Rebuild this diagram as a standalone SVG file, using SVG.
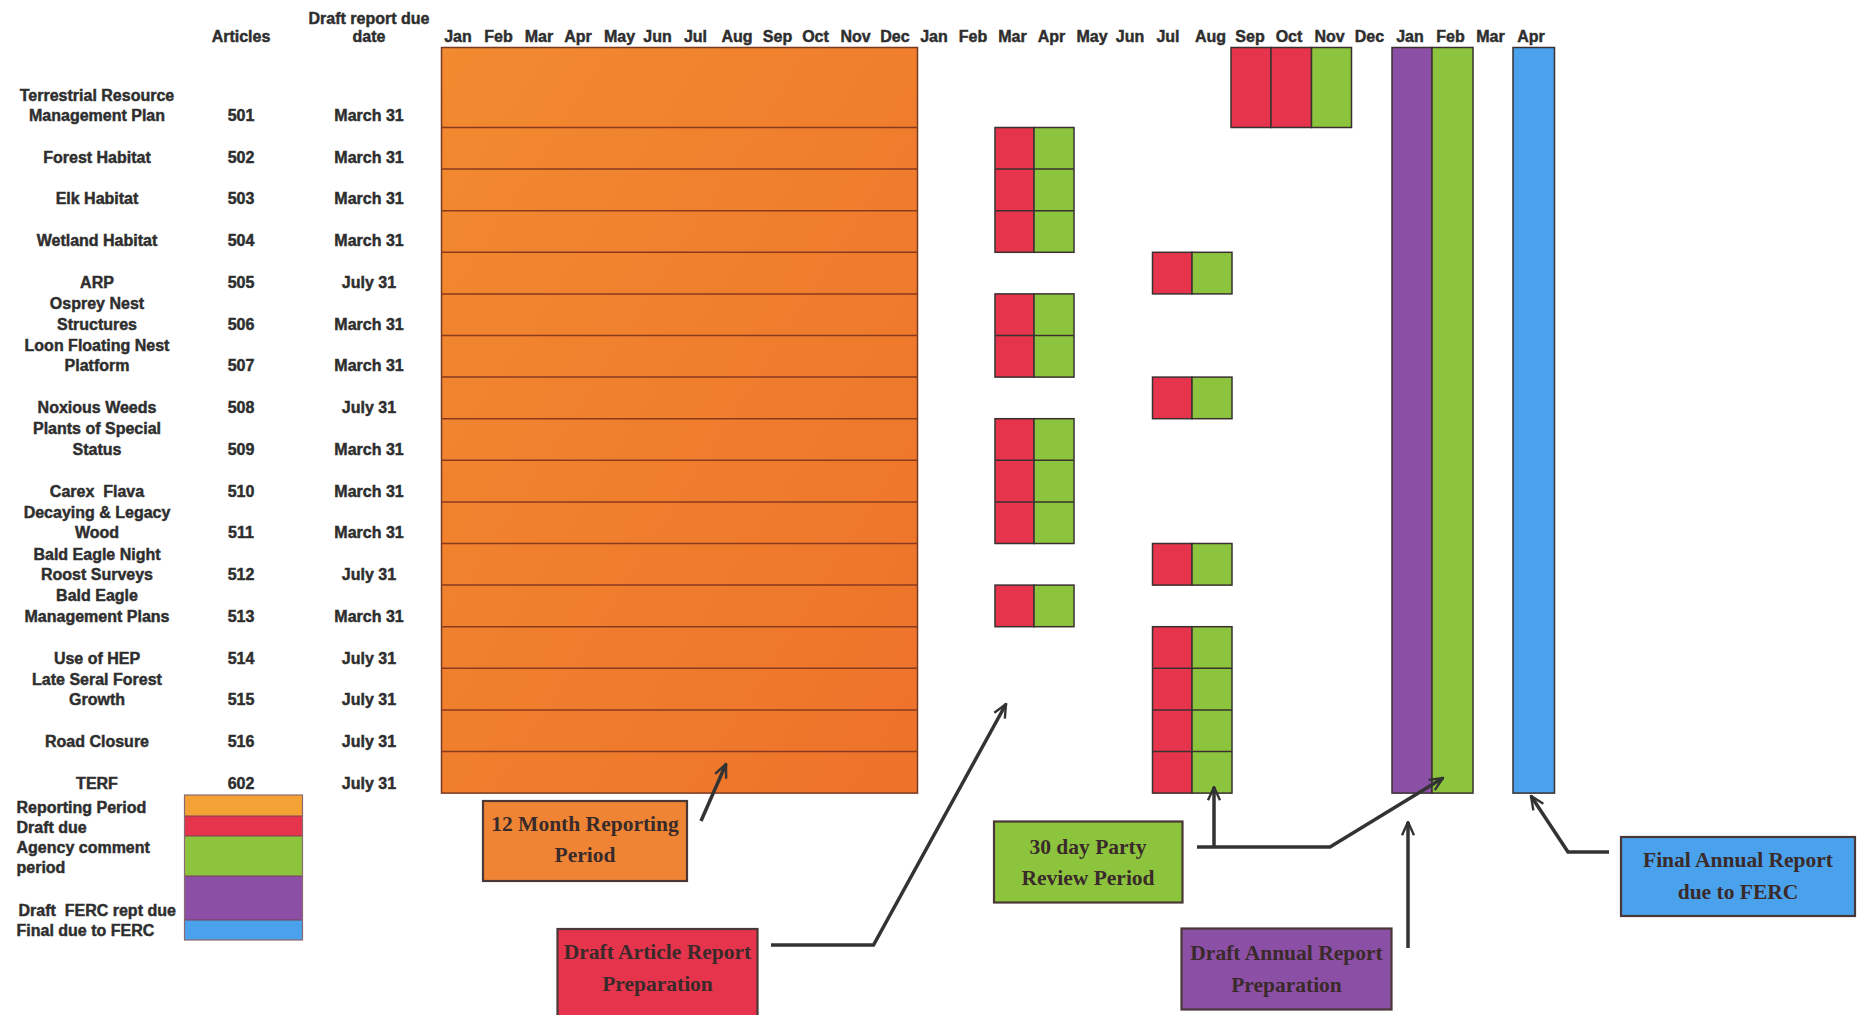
<svg xmlns="http://www.w3.org/2000/svg" width="1861" height="1015" viewBox="0 0 1861 1015">
<style>
.t{font-family:"Liberation Sans",Arial,sans-serif;font-weight:bold;font-size:16px;fill:#2e2e2e;stroke:#2e2e2e;stroke-width:0.45px;text-anchor:middle}
.l{font-family:"Liberation Sans",Arial,sans-serif;font-weight:bold;font-size:16px;fill:#2e2e2e;stroke:#2e2e2e;stroke-width:0.45px;text-anchor:start}
.c{font-family:"Liberation Serif","Times New Roman",serif;font-weight:bold;font-size:21.5px;fill:#3a2a2a;text-anchor:middle}
.org{fill:url(#og);stroke:#7a3a22;stroke-width:1.5}
.red{fill:#E6344C;stroke:#3a3030;stroke-width:1.5}
.grn{fill:#8DC43E;stroke:#3a3030;stroke-width:1.5}
.pur{fill:#8C4FA6;stroke:#3a3030;stroke-width:1.5}
.blu{fill:#4BA2EC;stroke:#3a3030;stroke-width:1.5}
.rl{stroke:#8a3a1e;stroke-width:1.5;fill:none}
.dl{stroke:#3a3030;stroke-width:1.5;fill:none}
.box{stroke:#4a3838;stroke-width:2.2}
.con{fill:none;stroke:#333;stroke-width:3.5;stroke-linejoin:miter}
</style>
<defs>
<linearGradient id="og" x1="0" y1="0" x2="1" y2="1">
<stop offset="0" stop-color="#F28A30"/>
<stop offset="1" stop-color="#ED722A"/>
</linearGradient>
<marker id="arr" viewBox="0 0 12 12" refX="11" refY="6" markerWidth="16" markerHeight="16" markerUnits="userSpaceOnUse" orient="auto">
<path d="M1,1.5 L11,6 L1,10.5" fill="none" stroke="#333" stroke-width="1.8"/>
</marker>
</defs>
<rect width="1861" height="1015" fill="#ffffff"/>

<g id="header">
<text class="t" x="241" y="42">Articles</text>
<text class="t" x="369" y="24">Draft report due</text>
<text class="t" x="369" y="42">date</text>
<g id="months">
<text class="t" x="458" y="42">Jan</text>
<text class="t" x="498.5" y="42">Feb</text>
<text class="t" x="539" y="42">Mar</text>
<text class="t" x="578" y="42">Apr</text>
<text class="t" x="619.5" y="42">May</text>
<text class="t" x="657.5" y="42">Jun</text>
<text class="t" x="695.5" y="42">Jul</text>
<text class="t" x="737" y="42">Aug</text>
<text class="t" x="777.5" y="42">Sep</text>
<text class="t" x="815.5" y="42">Oct</text>
<text class="t" x="855.5" y="42">Nov</text>
<text class="t" x="895" y="42">Dec</text>
<text class="t" x="934" y="42">Jan</text>
<text class="t" x="973" y="42">Feb</text>
<text class="t" x="1012.5" y="42">Mar</text>
<text class="t" x="1051.5" y="42">Apr</text>
<text class="t" x="1092" y="42">May</text>
<text class="t" x="1130" y="42">Jun</text>
<text class="t" x="1168" y="42">Jul</text>
<text class="t" x="1210.5" y="42">Aug</text>
<text class="t" x="1250" y="42">Sep</text>
<text class="t" x="1289" y="42">Oct</text>
<text class="t" x="1329.5" y="42">Nov</text>
<text class="t" x="1369.5" y="42">Dec</text>
<text class="t" x="1410" y="42">Jan</text>
<text class="t" x="1450.5" y="42">Feb</text>
<text class="t" x="1490.5" y="42">Mar</text>
<text class="t" x="1531" y="42">Apr</text>
</g>
</g>

<g id="rows">
<g id="r501"><text class="t" x="97" y="100.5">Terrestrial Resource</text><text class="t" x="97" y="121">Management Plan</text><text class="t" x="241" y="121">501</text><text class="t" x="369" y="121">March 31</text></g>
<g id="r502"><text class="t" x="97" y="162.5">Forest Habitat</text><text class="t" x="241" y="162.5">502</text><text class="t" x="369" y="162.5">March 31</text></g>
<g id="r503"><text class="t" x="97" y="204.3">Elk Habitat</text><text class="t" x="241" y="204.3">503</text><text class="t" x="369" y="204.3">March 31</text></g>
<g id="r504"><text class="t" x="97" y="246">Wetland Habitat</text><text class="t" x="241" y="246">504</text><text class="t" x="369" y="246">March 31</text></g>
<g id="r505"><text class="t" x="97" y="287.8">ARP</text><text class="t" x="241" y="287.8">505</text><text class="t" x="369" y="287.8">July 31</text></g>
<g id="r506"><text class="t" x="97" y="309">Osprey Nest</text><text class="t" x="97" y="329.5">Structures</text><text class="t" x="241" y="329.5">506</text><text class="t" x="369" y="329.5">March 31</text></g>
<g id="r507"><text class="t" x="97" y="350.8">Loon Floating Nest</text><text class="t" x="97" y="371.3">Platform</text><text class="t" x="241" y="371.3">507</text><text class="t" x="369" y="371.3">March 31</text></g>
<g id="r508"><text class="t" x="97" y="413">Noxious Weeds</text><text class="t" x="241" y="413">508</text><text class="t" x="369" y="413">July 31</text></g>
<g id="r509"><text class="t" x="97" y="434.3">Plants of Special</text><text class="t" x="97" y="454.8">Status</text><text class="t" x="241" y="454.8">509</text><text class="t" x="369" y="454.8">March 31</text></g>
<g id="r510"><text class="t" x="97" y="496.5" style="white-space:pre">Carex  Flava</text><text class="t" x="241" y="496.5">510</text><text class="t" x="369" y="496.5">March 31</text></g>
<g id="r511"><text class="t" x="97" y="517.8">Decaying &amp; Legacy</text><text class="t" x="97" y="538.3">Wood</text><text class="t" x="241" y="538.3">511</text><text class="t" x="369" y="538.3">March 31</text></g>
<g id="r512"><text class="t" x="97" y="559.5">Bald Eagle Night</text><text class="t" x="97" y="580">Roost Surveys</text><text class="t" x="241" y="580">512</text><text class="t" x="369" y="580">July 31</text></g>
<g id="r513"><text class="t" x="97" y="601.3">Bald Eagle</text><text class="t" x="97" y="621.8">Management Plans</text><text class="t" x="241" y="621.8">513</text><text class="t" x="369" y="621.8">March 31</text></g>
<g id="r514"><text class="t" x="97" y="663.5">Use of HEP</text><text class="t" x="241" y="663.5">514</text><text class="t" x="369" y="663.5">July 31</text></g>
<g id="r515"><text class="t" x="97" y="684.8">Late Seral Forest</text><text class="t" x="97" y="705.3">Growth</text><text class="t" x="241" y="705.3">515</text><text class="t" x="369" y="705.3">July 31</text></g>
<g id="r516"><text class="t" x="97" y="747">Road Closure</text><text class="t" x="241" y="747">516</text><text class="t" x="369" y="747">July 31</text></g>
<g id="r602"><text class="t" x="97" y="788.8">TERF</text><text class="t" x="241" y="788.8">602</text><text class="t" x="369" y="788.8">July 31</text></g>
</g>

<g id="reporting-period">
<rect class="org" x="441.5" y="47.5" width="476" height="745.6"/>
<path class="rl" d="M441.5,127.5H917.5M441.5,169.1H917.5M441.5,210.7H917.5M441.5,252.3H917.5M441.5,293.9H917.5M441.5,335.5H917.5M441.5,377.1H917.5M441.5,418.7H917.5M441.5,460.3H917.5M441.5,501.9H917.5M441.5,543.5H917.5M441.5,585.1H917.5M441.5,626.7H917.5M441.5,668.3H917.5M441.5,709.9H917.5M441.5,751.5H917.5"/>
</g>

<g id="blocks-501">
<rect class="red" x="1231" y="47.5" width="40" height="80"/>
<rect class="red" x="1271" y="47.5" width="40.5" height="80"/>
<rect class="grn" x="1311.5" y="47.5" width="40" height="80"/>
</g>
<g id="blocks-502-504">
<rect class="red" x="995" y="127.5" width="39" height="124.8"/>
<rect class="grn" x="1034" y="127.5" width="40" height="124.8"/>
<path class="dl" d="M995,169.1H1074M995,210.7H1074"/>
</g>
<g id="blocks-505">
<rect class="red" x="1152.5" y="252.3" width="39.5" height="41.6"/>
<rect class="grn" x="1192" y="252.3" width="40" height="41.6"/>
</g>
<g id="blocks-506-507">
<rect class="red" x="995" y="293.9" width="39" height="83.2"/>
<rect class="grn" x="1034" y="293.9" width="40" height="83.2"/>
<path class="dl" d="M995,335.5H1074"/>
</g>
<g id="blocks-508">
<rect class="red" x="1152.5" y="377.1" width="39.5" height="41.6"/>
<rect class="grn" x="1192" y="377.1" width="40" height="41.6"/>
</g>
<g id="blocks-509-511">
<rect class="red" x="995" y="418.7" width="39" height="124.8"/>
<rect class="grn" x="1034" y="418.7" width="40" height="124.8"/>
<path class="dl" d="M995,460.3H1074M995,501.9H1074"/>
</g>
<g id="blocks-512">
<rect class="red" x="1152.5" y="543.5" width="39.5" height="41.6"/>
<rect class="grn" x="1192" y="543.5" width="40" height="41.6"/>
</g>
<g id="blocks-513">
<rect class="red" x="995" y="585.1" width="39" height="41.6"/>
<rect class="grn" x="1034" y="585.1" width="40" height="41.6"/>
</g>
<g id="blocks-514-602">
<rect class="red" x="1152.5" y="626.7" width="39.5" height="166.4"/>
<rect class="grn" x="1192" y="626.7" width="40" height="166.4"/>
<path class="dl" d="M1152.5,668.3H1232M1152.5,709.9H1232M1152.5,751.5H1232"/>
</g>
<g id="annual-bars">
<rect class="pur" x="1392" y="47.5" width="40" height="745.6"/>
<rect class="grn" x="1432" y="47.5" width="41" height="745.6"/>
<rect class="blu" x="1513" y="47.5" width="41.5" height="745.6"/>
</g>

<g id="legend">
<rect x="184.5" y="795" width="118" height="21" fill="#F4A236"/>
<rect x="184.5" y="816" width="118" height="20" fill="#E6344C"/>
<rect x="184.5" y="836" width="118" height="40" fill="#8DC43E"/>
<rect x="184.5" y="876" width="118" height="44" fill="#8C4FA6"/>
<rect x="184.5" y="920" width="118" height="20" fill="#4BA2EC"/>
<path d="M184.5,816H302.5M184.5,836H302.5M184.5,876H302.5M184.5,920H302.5" stroke="#7a4050" stroke-width="1"/>
<rect x="184.5" y="795" width="118" height="145" fill="none" stroke="#8a6a70" stroke-width="1.2"/>
<text class="l" x="16.5" y="812.5">Reporting Period</text>
<text class="l" x="16.5" y="832.5">Draft due</text>
<text class="l" x="16.5" y="852.5">Agency comment</text>
<text class="l" x="16.5" y="872.5">period</text>
<text class="l" x="18.5" y="915.5" style="white-space:pre">Draft  FERC rept due</text>
<text class="l" x="16.5" y="935.5">Final due to FERC</text>
</g>

<g id="callout-12month">
<rect class="box" x="483" y="801" width="204" height="80" fill="#EF8534"/>
<text class="c" x="585" y="831">12 Month Reporting</text>
<text class="c" x="585" y="862">Period</text>
</g>
<g id="callout-draft-article">
<rect class="box" x="557.5" y="929" width="200" height="92" fill="#E6344C"/>
<text class="c" x="657.5" y="959">Draft Article Report</text>
<text class="c" x="657.5" y="991">Preparation</text>
</g>
<g id="callout-30day">
<rect class="box" x="994" y="821.5" width="188.5" height="81" fill="#8DC43E"/>
<text class="c" x="1088" y="854">30 day Party</text>
<text class="c" x="1088" y="885">Review Period</text>
</g>
<g id="callout-draft-annual">
<rect class="box" x="1181.5" y="928.5" width="210" height="81" fill="#8C4FA6"/>
<text class="c" x="1286.5" y="960">Draft Annual Report</text>
<text class="c" x="1286.5" y="992">Preparation</text>
</g>
<g id="callout-final-annual">
<rect class="box" x="1621" y="837" width="234" height="79" fill="#4BA2EC"/>
<text class="c" x="1738" y="867">Final Annual Report</text>
<text class="c" x="1738" y="899">due to FERC</text>
</g>

<g id="connectors">
<path class="con" d="M701,821L726,764" marker-end="url(#arr)"/>
<path class="con" d="M771,945H873.5L1006,704" marker-end="url(#arr)"/>
<path class="con" d="M1197,847H1330L1443,778" marker-end="url(#arr)"/>
<path class="con" d="M1214,847V787" marker-end="url(#arr)"/>
<path class="con" d="M1408,948V822" marker-end="url(#arr)"/>
<path class="con" d="M1609,852H1568L1531,796" marker-end="url(#arr)"/>
</g>
</svg>
